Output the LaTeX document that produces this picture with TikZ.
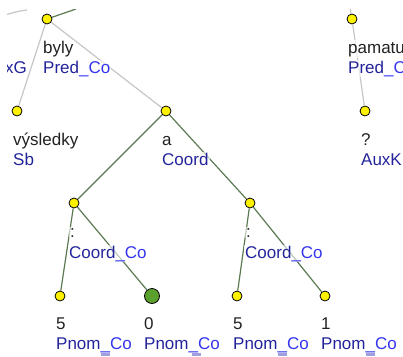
\documentclass[tikz,border=0pt]{standalone}
\usepackage{fontspec}
\setmainfont{Liberation Sans}
\usepackage{tikz}
\definecolor{afdark}{HTML}{23239B}
\definecolor{afco}{HTML}{3535F0}
\definecolor{edgegreen}{HTML}{5B7A52}
\definecolor{edgegray}{HTML}{C6C6C6}
\definecolor{wordblack}{HTML}{222222}
\definecolor{nodegreen}{HTML}{5AA02C}
\definecolor{marklav}{HTML}{A0A0E0}
\newcommand{\coafun}[1]{\textcolor{afdark}{#1}\textcolor{afco}{\_Co}}

\begin{document}
\begin{tikzpicture}[x=1pt, y=-1pt,
  tnode/.style={circle, fill=yellow, draw=black, line width=0.8pt, inner sep=0pt, minimum size=10pt},
  word/.style={anchor=base west, inner sep=1pt, text=wordblack, fill=white, fill opacity=0.6, text opacity=1, font=\fontsize{17}{20}\selectfont},
  afun/.style={word, text=afdark},
  gedge/.style={draw=edgegreen, line width=1.2pt},
  hedge/.style={draw=edgegray, line width=1.2pt}]
  \useasboundingbox (0,0) rectangle (403,356);
  \clip (7,9) rectangle (403,356);

  % tree nodes
  \node[tnode] (byly) at (47,19) {};
  \node[tnode] (vysl) at (17,111) {};
  \node[tnode] (a) at (166,111) {};
  \node[tnode] (crdL) at (74,203) {};
  \node[tnode] (crdR) at (250,203) {};
  \node[tnode] (n5a) at (60,296) {};
  \node[circle, fill=nodegreen, draw=black, line width=0.8pt, inner sep=0pt, minimum size=15pt] (n0) at (152,296) {};
  \node[tnode] (n5b) at (237,296) {};
  \node[tnode] (n1) at (325,296) {};
  \node[tnode] (pam) at (352,19) {};
  \node[tnode] (auxk) at (365,111) {};
  \coordinate (bylyUp) at (76,9);
  \coordinate (pamUp) at (350,8);
  \coordinate (auxgA) at (7,14.5);
  \coordinate (auxgB) at (27,10);

  % edges
  \draw[gedge] (byly) -- (bylyUp);
  \draw[hedge] (auxgA) to[bend left=5] (auxgB);
  \draw[hedge] (byly) -- (vysl);
  \draw[hedge] (byly) -- (a);
  \draw[gedge] (a) -- (crdL);
  \draw[gedge] (a) -- (crdR);
  \draw[gedge] (crdL) -- (n5a);
  \draw[gedge] (crdL) -- (n0);
  \draw[gedge] (crdR) -- (n5b);
  \draw[gedge] (crdR) -- (n1);
  \draw[hedge] (pam) -- (pamUp);
  \draw[hedge] (pam) -- (auxk);

  % labels
  \node[afun, anchor=base east] (auxgL) at (28,73) {AuxG};
  \node[word] (bylyW) at (42,53) {byly};
  \node[afun] (bylyA) at (42,73) {\coafun{Pred}};
  \node[word] (vyslW) at (12,145) {výsledky};
  \node[afun] (vyslA) at (12,165) {Sb};
  \node[word] (aW) at (161,145) {a};
  \node[afun] (aA) at (161,165) {Coord};
  \node[word] (crdLW) at (69,237) {:};
  \node[afun] (crdLA) at (68,258) {\coafun{Coord}};
  \node[word] (crdRW) at (245,237) {:};
  \node[afun] (crdRA) at (244,258) {\coafun{Coord}};
  \node[word] (n5aW) at (55,329) {5};
  \node[afun] (n5aA) at (55,349) {\coafun{Pnom}};
  \node[word] (n0W) at (143,329) {0};
  \node[afun] (n0A) at (143,349) {\coafun{Pnom}};
  \node[word] (n5bW) at (232,329) {5};
  \node[afun] (n5bA) at (232,349) {\coafun{Pnom}};
  \node[word] (n1W) at (320,329) {1};
  \node[afun] (n1A) at (320,349) {\coafun{Pnom}};
  \node[word] (pamW) at (347,53) {pamatuje};
  \node[afun] (pamA) at (347,73) {\coafun{Pred}};
  \node[word] (auxkW) at (360,145) {?};
  \node[afun] (auxkA) at (360,165) {AuxK};

  % cut-off marks at the bottom
  \foreach \mx in {101,192,278,366}
    \fill[marklav] (\mx,353) rectangle ++(9,3);
\end{tikzpicture}
\end{document}
